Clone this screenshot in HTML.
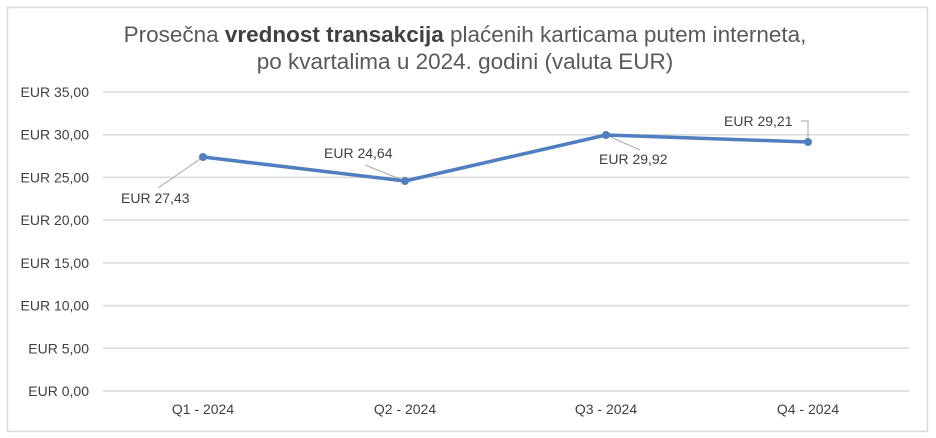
<!DOCTYPE html>
<html><head><style>
body{margin:0;background:#fff;}
svg{display:block;font-family:"Liberation Sans",Arial,sans-serif;}
</style></head><body>
<svg width="936" height="438" viewBox="0 0 936 438">
<rect x="7.5" y="7.5" width="920" height="424" fill="#fff" stroke="#d9d9d9" stroke-width="1.5"/>
<text x="465" y="42" text-anchor="middle" font-size="22.5" fill="#595959">Prosečna <tspan font-weight="bold" fill="#404040">vrednost transakcija</tspan> plaćenih karticama putem interneta,</text>
<text x="465" y="69" text-anchor="middle" font-size="22.5" fill="#595959">po kvartalima u 2024. godini (valuta EUR)</text>
<g stroke="#d9d9d9" stroke-width="1.5">
<line x1="103" x2="909" y1="92" y2="92"/>
<line x1="103" x2="909" y1="134.7" y2="134.7"/>
<line x1="103" x2="909" y1="177.4" y2="177.4"/>
<line x1="103" x2="909" y1="220.1" y2="220.1"/>
<line x1="103" x2="909" y1="262.9" y2="262.9"/>
<line x1="103" x2="909" y1="305.6" y2="305.6"/>
<line x1="103" x2="909" y1="348.3" y2="348.3"/>
<line x1="103" x2="909" y1="391" y2="391"/>
</g>
<g font-size="14" fill="#404040" text-anchor="end">
<text x="89" y="97">EUR 35,00</text>
<text x="89" y="139.7">EUR 30,00</text>
<text x="89" y="182.4">EUR 25,00</text>
<text x="89" y="225.1">EUR 20,00</text>
<text x="89" y="267.9">EUR 15,00</text>
<text x="89" y="310.6">EUR 10,00</text>
<text x="89" y="353.3">EUR 5,00</text>
<text x="89" y="396">EUR 0,00</text>
</g>
<g font-size="14" fill="#404040" text-anchor="middle">
<text x="203" y="414">Q1 - 2024</text>
<text x="405" y="414">Q2 - 2024</text>
<text x="606" y="414">Q3 - 2024</text>
<text x="808" y="414">Q4 - 2024</text>
</g>
<g stroke="#a6a6a6" stroke-width="1" fill="none">
<line x1="203" y1="157" x2="158" y2="188"/>
<line x1="405" y1="181" x2="365" y2="165"/>
<line x1="606" y1="135" x2="640" y2="150"/>
<polyline points="801,121 808,121 808,142"/>
</g>
<polyline points="203,157 405,181 606,135 808,142" fill="none" stroke="#4f7fc0" stroke-width="3.5" stroke-linejoin="round"/>
<g fill="#4f7fc0">
<circle cx="203" cy="157" r="4"/><circle cx="405" cy="181" r="4"/><circle cx="606" cy="135" r="4"/><circle cx="808" cy="142" r="4"/>
</g>
<g font-size="14" fill="#404040">
<text x="121" y="203">EUR 27,43</text>
<text x="324" y="158">EUR 24,64</text>
<text x="599" y="164">EUR 29,92</text>
<text x="724" y="126">EUR 29,21</text>
</g>
</svg>
</body></html>
